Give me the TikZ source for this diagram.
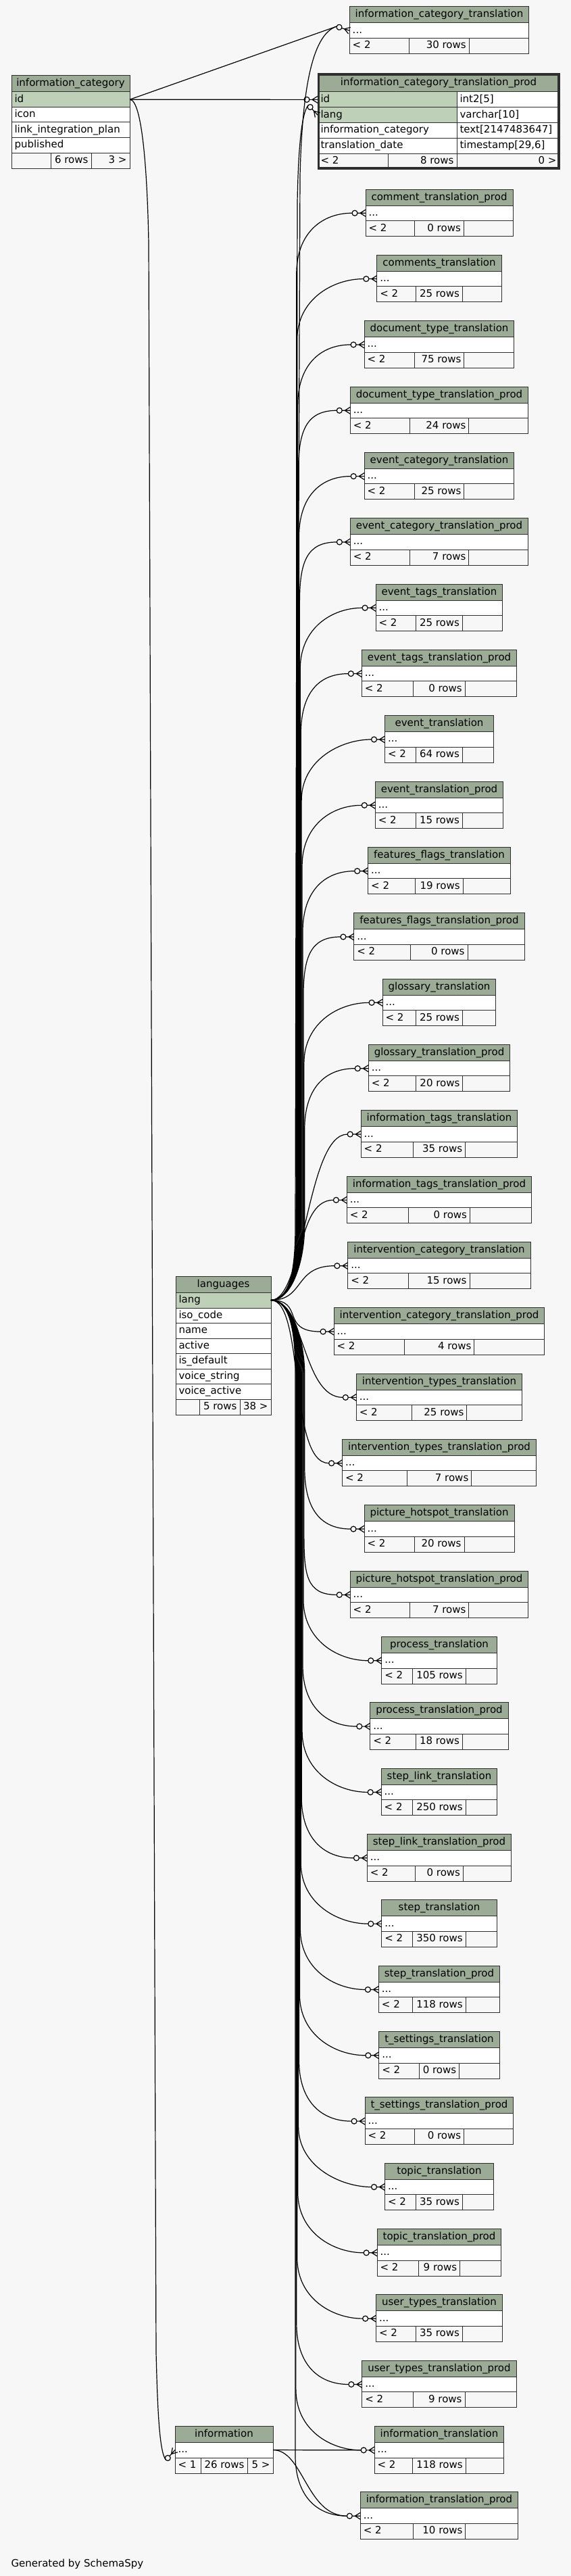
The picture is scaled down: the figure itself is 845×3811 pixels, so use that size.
\documentclass[tikz,border=0pt]{standalone}
\usepackage{fontspec}
\setmainfont{DejaVu Sans}
\usetikzlibrary{calc}

\definecolor{hdrgreen}{HTML}{9BAB96}
\definecolor{keygreen}{HTML}{BED1B8}
\definecolor{paper}{HTML}{F7F7F7}
\definecolor{rulegray}{HTML}{2E2E2E}

\newcommand\tblfont{\fontsize{11.25pt}{13.5pt}\selectfont}
\newlength\hdrwd
\newlength\rowswd

\tikzset{every picture/.style={line width=0.75pt}}
\tikzset{
  cell/.style={draw=rulegray, inner sep=0pt, outer sep=0pt},
  celltext/.style={font=\tblfont, inner xsep=3pt, inner ysep=0pt, text height=8.2pt, text depth=2.2pt},
  rel/.style={draw=black, line width=0.9pt},
  zmany/.pic={
    \draw[rel] (-12,0) -- (0,0) (-8,0) -- (0,-5) (-8,0) -- (0,5);
    \draw[rel, fill=paper] (-16,0) circle[radius=4];
    \coordinate (-tail) at (-20,0);
  },
}

% the translation tables: id/label/rows
\newcommand\tablelist{%
  ctp/comment\_translation\_prod/0 rows,
  cmt/comments\_translation/25 rows,
  dtt/document\_type\_translation/75 rows,
  dttp/document\_type\_translation\_prod/24 rows,
  ect/event\_category\_translation/25 rows,
  ectp/event\_category\_translation\_prod/7 rows,
  ett/event\_tags\_translation/25 rows,
  ettp/event\_tags\_translation\_prod/0 rows,
  evt/event\_translation/64 rows,
  evtp/event\_translation\_prod/15 rows,
  fft/features\_flags\_translation/19 rows,
  fftp/features\_flags\_translation\_prod/0 rows,
  gt/glossary\_translation/25 rows,
  gtp/glossary\_translation\_prod/20 rows,
  itt/information\_tags\_translation/35 rows,
  ittp/information\_tags\_translation\_prod/0 rows,
  ivc/intervention\_category\_translation/15 rows,
  ivcp/intervention\_category\_translation\_prod/4 rows,
  ivt/intervention\_types\_translation/25 rows,
  ivtp/intervention\_types\_translation\_prod/7 rows,
  pht/picture\_hotspot\_translation/20 rows,
  phtp/picture\_hotspot\_translation\_prod/7 rows,
  prt/process\_translation/105 rows,
  prtp/process\_translation\_prod/18 rows,
  slt/step\_link\_translation/250 rows,
  sltp/step\_link\_translation\_prod/0 rows,
  stt/step\_translation/350 rows,
  sttp/step\_translation\_prod/118 rows,
  tst/t\_settings\_translation/0 rows,
  tstp/t\_settings\_translation\_prod/0 rows,
  tpt/topic\_translation/35 rows,
  tptp/topic\_translation\_prod/9 rows,
  utt/user\_types\_translation/35 rows,
  uttp/user\_types\_translation\_prod/9 rows,
  inft/information\_translation/118 rows,
  inftp/information\_translation\_prod/10 rows}

% widths are taken before the picture (fonts are off inside it)
\newcommand\measure[3]{%
  \settowidth\hdrwd{\tblfont #2}%
  \settowidth\rowswd{\tblfont #3}%
  \expandafter\xdef\csname hw@#1\endcsname{\the\hdrwd}%
  \expandafter\xdef\csname rw@#1\endcsname{\the\rowswd}%
}
\AtBeginDocument{%
  \measure{ict}{information\_category\_translation}{30 rows}%
  \foreach \tid/\tname/\trows in \tablelist {\measure{\tid}{\tname}{\trows}}%
}

% one cell: [fill] name, x0, x1, y0, y1
\newcommand\tcell[6][white]{%
  \node[cell, fill=#1, minimum width={((#4)-(#3))*0.75pt}, minimum height={((#6)-(#5))*0.75pt}, anchor=north west] (#2) at (#3,#5) {};%
}

% a translation table: [marker rotation] id, label, top, rows
\newcommand\dbtable[5][0]{%
  \pgfmathsetmacro\midw{\csname rw@#2\endcsname/0.75+10}%
  \pgfmathsetmacro\tw{max(\csname hw@#2\endcsname/0.75+17,\midw+92)}%
  \pgfmathsetmacro\midw{max(\midw,\tw/3)}%
  \pgfmathsetmacro\xl{650-\tw/2}%
  \pgfmathsetmacro\xr{650+\tw/2}%
  \pgfmathsetmacro\ml{650-\midw/2}%
  \pgfmathsetmacro\mr{650+\midw/2}%
  \tcell[hdrgreen]{#2}{\xl}{\xr}{#4}{#4+24}%
  \node[celltext] (#2-title) at (#2) {#3};%
  \tcell{#2-dots}{\xl}{\xr}{#4+24}{#4+46.5}%
  \node[celltext, anchor=west] (#2-dotstext) at (#2-dots.west) {...};%
  \tcell[paper]{#2-f1}{\xl}{\ml}{#4+46.5}{#4+69.5}%
  \tcell[paper]{#2-f2}{\ml}{\mr}{#4+46.5}{#4+69.5}%
  \tcell[paper]{#2-f3}{\mr}{\xr}{#4+46.5}{#4+69.5}%
  \node[celltext, anchor=west] (#2-lt) at (#2-f1.west) {< 2};%
  \node[celltext, anchor=east] (#2-rows) at (#2-f2.east) {#5};%
  \pic[rotate=#1] (#2-m) at (#2-dots.west) {zmany};%
}

\begin{document}
\begin{tikzpicture}[x=0.75pt,y=0.75pt,yscale=-1,xscale=1]
\useasboundingbox (0,0) rectangle (845,3811);
\fill[paper] (0,0) rectangle (845,3811);

%Shape: Table [information_category]
\tcell[hdrgreen]{ic}{17}{192}{112}{136}
\node[celltext] (ic-title) at (ic) {information\_category};
\tcell[keygreen]{ic-id}{17}{192}{136}{158.5}
\node[celltext,anchor=west] (ic-id-text) at (ic-id.west) {id};
\tcell{ic-icon}{17}{192}{158.5}{181}
\node[celltext,anchor=west] (ic-icon-text) at (ic-icon.west) {icon};
\tcell{ic-link}{17}{192}{181}{203.5}
\node[celltext,anchor=west] (ic-link-text) at (ic-link.west) {link\_integration\_plan};
\tcell{ic-pub}{17}{192}{203.5}{226}
\node[celltext,anchor=west] (ic-pub-text) at (ic-pub.west) {published};
\tcell[paper]{ic-f1}{17}{75}{226}{249}
\tcell[paper]{ic-f2}{75}{135}{226}{249}
\tcell[paper]{ic-f3}{135}{192}{226}{249}
\node[celltext,anchor=east] (ic-rows) at (ic-f2.east) {6 rows};
\node[celltext,anchor=east] (ic-gt) at (ic-f3.east) {3 >};

%Shape: Table [information_category_translation_prod]
\tcell[hdrgreen]{icp}{470}{828}{109}{136}
\node[celltext] (icp-title) at (icp) {information\_category\_translation\_prod};
\tcell[keygreen]{icp-id}{470}{676}{136}{158.75}
\tcell{icp-id-t}{676}{828}{136}{158.75}
\tcell[keygreen]{icp-lang}{470}{676}{158.75}{181.5}
\tcell{icp-lang-t}{676}{828}{158.75}{181.5}
\tcell{icp-cat}{470}{676}{181.5}{204.25}
\tcell{icp-cat-t}{676}{828}{181.5}{204.25}
\tcell{icp-date}{470}{676}{204.25}{227}
\tcell{icp-date-t}{676}{828}{204.25}{227}
\node[celltext,anchor=west] (icp-id-text) at (icp-id.west) {id};
\node[celltext,anchor=west] (icp-id-type) at (icp-id-t.west) {int2[5]};
\node[celltext,anchor=west] (icp-lang-text) at (icp-lang.west) {lang};
\node[celltext,anchor=west] (icp-lang-type) at (icp-lang-t.west) {varchar[10]};
\node[celltext,anchor=west] (icp-cat-text) at (icp-cat.west) {information\_category};
\node[celltext,anchor=west] (icp-cat-type) at (icp-cat-t.west) {text[2147483647]};
\node[celltext,anchor=west] (icp-date-text) at (icp-date.west) {translation\_date};
\node[celltext,anchor=west] (icp-date-type) at (icp-date-t.west) {timestamp[29,6]};
\tcell[paper]{icp-f1}{470}{574}{227}{250}
\tcell[paper]{icp-f2}{574}{676}{227}{250}
\tcell[paper]{icp-f3}{676}{828}{227}{250}
\node[celltext,anchor=west] (icp-lt) at (icp-f1.west) {< 2};
\node[celltext,anchor=east] (icp-rows) at (icp-f2.east) {8 rows};
\node[celltext,anchor=east] (icp-gt) at (icp-f3.east) {0 >};
\draw[line width=2.25pt, rulegray] (471.5,110.5) rectangle (826.5,248.5);
\pic (icp-m1) at (icp-id.west) {zmany};
\pic[rotate=-47] (icp-m2) at (icp-lang.west) {zmany};

%Shape: Table [languages]
\tcell[hdrgreen]{lg}{260}{401}{1888}{1912}
\node[celltext] (lg-title) at (lg) {languages};
\tcell[keygreen]{lg-lang}{260}{401}{1912}{1935}
\node[celltext,anchor=west] (lg-lang-text) at (lg-lang.west) {lang};
\foreach \fld [count=\k from 0] in {iso\_code,name,active,is\_default,voice\_string,voice\_active}{
  \tcell{lg-f\k}{260}{401}{1935+22.5*\k}{1957.5+22.5*\k}
  \node[celltext,anchor=west] (lg-f\k-text) at (lg-f\k.west) {\fld};
}
\tcell[paper]{lg-t1}{260}{295}{2070}{2093}
\tcell[paper]{lg-t2}{295}{355}{2070}{2093}
\tcell[paper]{lg-t3}{355}{401}{2070}{2093}
\node[celltext,anchor=east] (lg-rows) at (lg-t2.east) {5 rows};
\node[celltext,anchor=east] (lg-gt) at (lg-t3.east) {38 >};

%Shape: Table [information]
\tcell[hdrgreen]{inf}{259}{404}{3589}{3613}
\node[celltext] (inf-title) at (inf) {information};
\tcell{inf-dots}{259}{404}{3613}{3636}
\node[celltext,anchor=west] (inf-dotstext) at (inf-dots.west) {...};
\tcell[paper]{inf-f1}{259}{297}{3636}{3659}
\tcell[paper]{inf-f2}{297}{366}{3636}{3659}
\tcell[paper]{inf-f3}{366}{404}{3636}{3659}
\node[celltext,anchor=west] (inf-lt) at (inf-f1.west) {< 1};
\node[celltext,anchor=east] (inf-rows) at (inf-f2.east) {26 rows};
\node[celltext,anchor=east] (inf-gt) at (inf-f3.east) {5 >};
\pic[rotate=48] (inf-m) at (inf-dots.west) {zmany};

%Shape: Translation tables
\dbtable[-18]{ict}{information\_category\_translation}{10}{30 rows}
\foreach \tid/\tname/\trows [count=\i from 0] in \tablelist {
  \pgfmathsetmacro\ttop{280+97.34*\i}
  \dbtable{\tid}{\tname}{\ttop}{\trows}
}

%Curve Lines [information_category]
\draw[rel] (ic-id.east) -- (ict-m-tail);
\draw[rel] (ic-id.east) -- (icp-m1-tail);
\draw[rel] (ic-id.east) .. controls +(18,0) and (218,250) .. (220,360) -- (231,3480) .. controls (233,3560) and ($(inf-m-tail)+(-10,-11)$) .. (inf-m-tail);

%Curve Lines [information]
\draw[rel] (inf-dots.east) -- (inft-m-tail);
\draw[rel] (inf-dots.east) .. controls +(45,0) and +(-60,0) .. (inftp-m-tail);

%Curve Lines [languages]
\draw[rel] (lg-lang.east) .. controls +(32,0) and +(0,50) .. (438,1813.5) -- (444,260) .. controls (447,140) and ($(ict-m-tail)+(-38,12)$) .. (ict-m-tail);
\draw[rel] (lg-lang.east) .. controls +(32,0) and +(0,50) .. (437,1813.5) -- (440,300) .. controls (441,240) and ($(icp-m2-tail)+(-12,13)$) .. (icp-m2-tail);
\foreach \tid [count=\i from 0] in {ctp,cmt,dtt,dttp,ect,ectp,ett,ettp,evt,evtp,fft,fftp,gt,gtp,itt,ittp,ivc,ivcp,ivt,ivtp,pht,phtp,prt,prtp,slt,sltp,stt,sttp,tst,tstp,tpt,tptp,utt,uttp,inft,inftp}{
  \pgfmathsetmacro\ry{315.25+97.34*\i}
  \pgfmathsetmacro\dy{1923.5-\ry}
  \pgfmathsetmacro\sg{\dy>0 ? 1 : -1}
  \pgfmathsetmacro\tx{436+18*(1-abs(\dy)/1900)}
  \pgfmathsetmacro\far{abs(\dy)>250 ? 1 : 0}
  \ifdim\far pt>0.5pt
    \draw[rel] (lg-lang.east) .. controls +(32,0) and +(0,50*\sg) .. (\tx,1923.5-110*\sg) -- (\tx,\ry+90*\sg) .. controls +(0,-60*\sg) and +(-45,0) .. (\tid-m-tail);
  \else
    \draw[rel] (lg-lang.east) .. controls +(50,0) and +(-60,0) .. (\tid-m-tail);
  \fi
}

% Text Node
\node[celltext, anchor=base west, inner xsep=0pt] (credit) at (16,3797) {Generated by SchemaSpy};

\end{tikzpicture}
\end{document}
